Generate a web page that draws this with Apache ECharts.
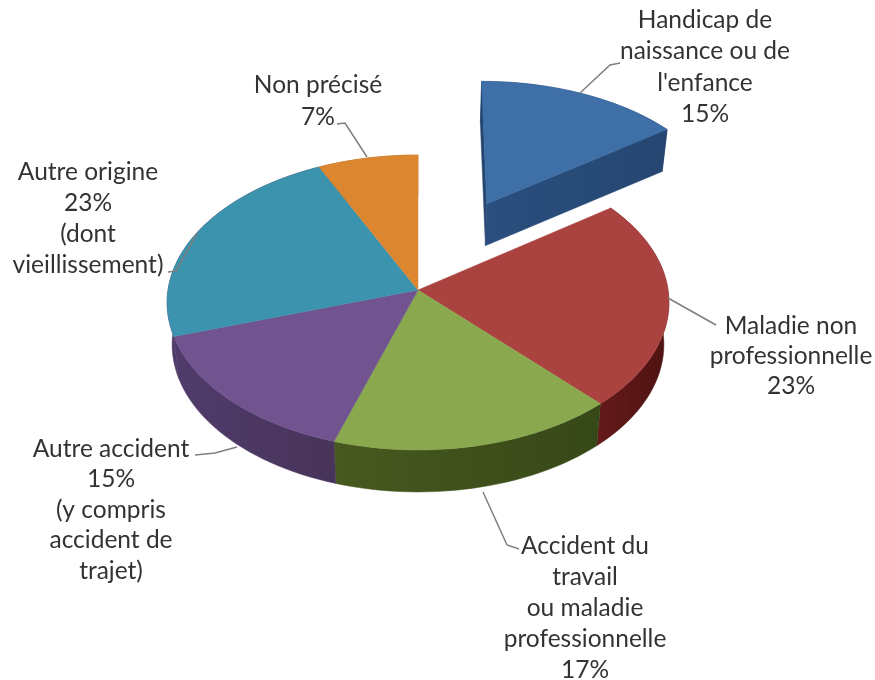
<!DOCTYPE html>
<html>
<head>
<meta charset="utf-8">
<script src="https://cdn.jsdelivr.net/npm/echarts@6/dist/echarts.min.js"></script>
<style>
  html, body { margin: 0; padding: 0; background: #fff; }
  #main { width: 875px; height: 680px; }
</style>
</head>
<body>
<div id="main"></div>
<script>
// data, clockwise from the top of the pie
var categories = ['Handicap de\nnaissance ou de\nl\'enfance', 'Maladie non\nprofessionnelle',
  'Accident du\ntravail\nou maladie\nprofessionnelle', 'Autre accident', 'Autre origine', 'Non précisé'];
var values = [15, 23, 17, 15, 23, 7];
var labelNotes = ['', '', '', '(y compris\naccident de\ntrajet)', '(dont\nvieillissement)', ''];

// colours
var topColors = ['#3e6fa7', '#aa4340', '#8aa84d', '#71548f', '#3c93ae', '#dc8630'];
var sideLight = ['#2a4f7e', '#651a1a', '#47591f', '#503b6c', '#4f3b68', '#a86424'];
var sideDark = ['#254670', '#4e1212', '#374818', '#483459', '#4f3b68', '#a86424'];

// label placement
var labelX = [705, 791, 585, 111, 88, 318];
var labelY = [20, 326, 546, 449, 172, 85];
var labelLineHeight = [31.5, 30, 31, 30.5, 31, 32];
var leaders = [
  [[580, 93], [610, 65], [620, 63]],
  [[668, 298], [716, 325]],
  [[483, 492], [507, 545], [519, 549]],
  [[237, 447], [215, 453], [195, 455]],
  [[197, 233], [176, 271], [168, 272]],
  [[367, 157], [345, 123], [337, 124]]
];

// projection of the tilted disc
var apexX = 418, apexY = 290, radX = 250, radY = 146.4, persp = 0.0847;
var depth = 42, bottomScale = 0.98;
var explodeDist = 0.685, explodeAngle = 25;

var total = values.reduce(function (a, b) { return a + b; }, 0);
var startAngles = [];
values.reduce(function (acc, v, i) {
  startAngles[i] = acc;
  return acc + v / total * 360;
}, 0);

function project(sx, cy) {
  var w = 1 + persp * cy;
  return [apexX + radX * sx / w, apexY - radY * cy / w];
}
function lower(p) {
  return [apexX + (p[0] - apexX) * bottomScale, p[1] + depth];
}
function sliceOffset(i) {
  if (i !== 0) return [0, 0];
  var a = explodeAngle * Math.PI / 180;
  return [explodeDist * Math.sin(a), explodeDist * Math.cos(a)];
}
function rimPoints(i) {
  var off = sliceOffset(i), pts = [];
  var a0 = startAngles[i], a1 = a0 + values[i] / total * 360;
  var n = Math.ceil((a1 - a0) / 2);
  for (var k = 0; k <= n; k++) {
    var a = (a0 + (a1 - a0) * k / n) * Math.PI / 180;
    pts.push(project(off[0] + Math.sin(a), off[1] + Math.cos(a)));
  }
  return pts;
}
function centerPoint(i) {
  var off = sliceOffset(i);
  return project(off[0], off[1]);
}
function poly(points, fill) {
  return { type: 'polygon', shape: { points: points }, style: { fill: fill, stroke: fill, lineWidth: 0.5 } };
}
function sideFill(i) {
  return new echarts.graphic.LinearGradient(0, 0, 1, 0, [
    { offset: 0, color: sideLight[i] }, { offset: 1, color: sideDark[i] }
  ]);
}

function renderSide(params, api) {
  var i = api.value(0);
  var rim = rimPoints(i), c = centerPoint(i), children = [];
  var bottomRim = rim.map(lower).reverse();
  children.push(poly(rim.concat(bottomRim), sideFill(i)));
  if (i === 0) {
    // the pulled-out slice shows both of its cut faces
    var first = rim[0], last = rim[rim.length - 1];
    children.push(poly([first, c, lower(c), lower(first)], sideDark[i]));
    children.push(poly([c, last, lower(last), lower(c)], sideFill(i)));
  }
  return { type: 'group', children: children };
}

function renderTop(params, api) {
  var i = api.value(0);
  return poly([centerPoint(i)].concat(rimPoints(i)), topColors[i]);
}

function renderLabel(params, api) {
  var i = api.value(0);
  var text = categories[i] + '\n' + values[i] + '%' + (labelNotes[i] ? '\n' + labelNotes[i] : '');
  return {
    type: 'group',
    children: [
      {
        type: 'polyline',
        shape: { points: leaders[i] },
        style: { fill: null, stroke: '#7f7f7f', lineWidth: 1.5 }
      },
      {
        type: 'text',
        style: {
          text: text,
          x: labelX[i],
          y: labelY[i] - labelLineHeight[i] / 2,
          align: 'center',
          verticalAlign: 'top',
          lineHeight: labelLineHeight[i],
          font: '24.5px Lato',
          fill: '#333'
        }
      }
    ]
  };
}

var rows = values.map(function (v, i) { return [i, v]; });
var chart = echarts.init(document.getElementById('main'));
chart.setOption({
  backgroundColor: '#fff',
  animation: false,
  tooltip: { show: false },
  series: [
    { type: 'custom', coordinateSystem: 'none', data: rows, renderItem: renderSide, z: 1, silent: true },
    { type: 'custom', coordinateSystem: 'none', data: rows, renderItem: renderTop, z: 2, silent: true },
    { type: 'custom', coordinateSystem: 'none', data: rows, renderItem: renderLabel, z: 3, silent: true }
  ]
});
</script>
</body>
</html>
